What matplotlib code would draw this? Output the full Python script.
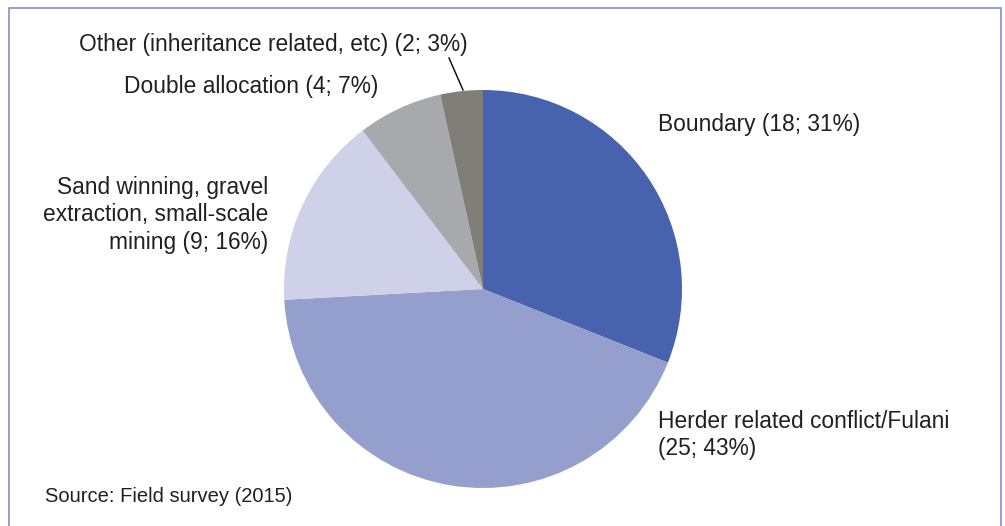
import matplotlib.pyplot as plt

plt.rcParams['font.family'] = ['Liberation Sans', 'DejaVu Sans']

categories = ["Boundary", "Herder related conflict/Fulani",
              "Sand winning, gravel extraction, small-scale mining",
              "Double allocation", "Other (inheritance related, etc)"]
counts = [18, 25, 9, 4, 2]
shares = [31, 43, 16, 7, 3]
colors = ["#4863ad", "#959fcd", "#cfd1e8", "#a7a9ac", "#7f7f77"]

W, H = 1005, 526
fig = plt.figure(figsize=(W / 100, H / 100), dpi=100)
ax = fig.add_axes([0, 0, 1, 1])

# pie, y measured from bottom
cx, cy, r = 483, H - 289, 199
ax.pie(counts, colors=colors, startangle=90, counterclock=False,
       center=(cx, cy), radius=r, frame=True,
       wedgeprops=dict(linewidth=0))
ax.set_xlim(0, W)
ax.set_ylim(0, H)
ax.set_aspect('equal')
ax.axis('off')

# frame (no bottom edge)
ec = "#7f8fc8"
ax.plot([8.5, 8.5, 1001.5, 1001.5], [0, H - 7.5, H - 7.5, 0], color=ec, lw=1.2)

tc = "#231f20"
fs = 16.4
ls = 1.27
lab = [f"{c} ({n}; {s}%)" for c, n, s in zip(categories, counts, shares)]
ax.text(658, H - 124, lab[0], fontsize=fs, color=tc, ha='left', va='center')
ax.text(658, H - 435, "Herder related conflict/Fulani\n(25; 43%)", fontsize=fs,
        color=tc, ha='left', va='center', linespacing=ls)
ax.text(268, H - 215, "Sand winning, gravel\nextraction, small-scale\nmining (9; 16%)",
        fontsize=fs, color=tc, ha='right', va='center', linespacing=ls)
ax.text(378, H - 87, lab[3], fontsize=fs, color=tc, ha='right', va='center')
ax.text(468, H - 44, lab[4], fontsize=fs, color=tc, ha='right', va='center')
ax.plot([449, 463], [H - 58, H - 90], color="#000000", lw=1)

ax.text(45, H - 497, "Source: Field survey (2015)", fontsize=14.5, color=tc,
        ha='left', va='center')

fig.savefig("out.png", dpi=100)
